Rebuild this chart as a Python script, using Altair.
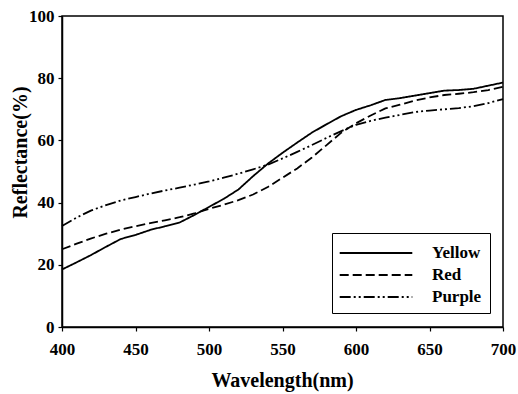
import altair as alt
import pandas as pd

# Wavelength grid (nm)
wavelength = list(range(400, 701, 10))

# Reflectance (%) of the three samples
yellow = [18.5, 20.8, 23.2, 25.8, 28.3, 29.6, 31.2, 32.4, 33.6, 36.0, 38.6,
          41.2, 44.2, 48.5, 52.5, 56.0, 59.3, 62.5, 65.2, 67.8, 69.8,
          71.3, 73.0, 73.6, 74.4, 75.2, 76.0, 76.2, 76.6, 77.6, 78.6]
red = [25.0, 26.8, 28.5, 30.0, 31.3, 32.4, 33.4, 34.3, 35.3, 36.5, 38.0,
       39.3, 40.8, 42.6, 45.0, 48.0, 51.0, 54.5, 58.5, 62.5, 65.5,
       68.0, 70.3, 71.5, 72.8, 73.8, 74.6, 75.0, 75.5, 76.2, 77.2]
purple = [32.5, 35.2, 37.5, 39.2, 40.7, 41.8, 42.9, 43.9, 44.8, 45.8, 46.8,
          48.0, 49.3, 50.7, 52.2, 54.2, 56.3, 58.5, 60.8, 63.0, 65.0,
          66.3, 67.3, 68.2, 69.1, 69.6, 70.0, 70.4, 71.0, 72.0, 73.3]

series_names = ["Yellow", "Red", "Purple"]
x_ticks = [400, 450, 500, 550, 600, 650, 700]
y_ticks = [0, 20, 40, 60, 80, 100]

rows = []
for name, values in zip(series_names, [yellow, red, purple]):
    for w, v in zip(wavelength, values):
        rows.append({"wavelength": w, "reflectance": v, "sample": name})
df = pd.DataFrame(rows)

FONT = "Liberation Serif"

# long horizontal stroke used as the legend symbol (unit square is +-1)
LEGEND_LINE = "M-3.3,0H3.3"

chart = (
    alt.Chart(df)
    .mark_line(color="black", strokeWidth=1.8)
    .encode(
        x=alt.X(
            "wavelength:Q",
            scale=alt.Scale(domain=[400, 700], nice=False),
            axis=alt.Axis(
                values=x_ticks,
                title="Wavelength(nm)",
                titleX=220,
                titleY=53,
                titleBaseline="middle",
                labelPadding=10,
                labelFlush=False,
            ),
        ),
        y=alt.Y(
            "reflectance:Q",
            scale=alt.Scale(domain=[0, 100], nice=False),
            axis=alt.Axis(
                values=y_ticks,
                title="Reflectance(%)",
                titleX=-42,
                titleY=136,
                titleBaseline="middle",
                labelPadding=4,
                labelFlush=False,
            ),
        ),
        strokeDash=alt.StrokeDash(
            "sample:N",
            scale=alt.Scale(
                domain=series_names,
                range=[[1, 0], [9, 4], [11, 3, 2, 3, 2, 3]],
            ),
            sort=series_names,
            legend=alt.Legend(
                title=None,
                orient="none",
                legendX=270,
                legendY=217,
                symbolType=LEGEND_LINE,
                symbolSize=484,
                symbolStrokeWidth=2,
                symbolStrokeColor="black",
                symbolOffset=24,
                labelFont=FONT,
                labelFontSize=17,
                labelFontWeight="bold",
                labelColor="black",
                labelOffset=44,
                rowPadding=2,
                padding=8,
                strokeColor="black",
                fillColor="white",
            ),
        ),
        detail="sample:N",
    )
    .properties(
        width=441,
        height=311,
        autosize=alt.AutoSizeParams(type="none"),
        padding={"left": 62, "top": 16, "right": 15, "bottom": 67},
        background="white",
    )
    .configure_view(stroke="black", strokeWidth=1.5)
    .configure_axis(
        grid=False,
        domainColor="black",
        domainWidth=1.5,
        tickColor="black",
        tickSize=4,
        tickWidth=1.2,
        labelFont=FONT,
        labelFontSize=17,
        labelFontWeight="bold",
        labelColor="black",
        titleFont=FONT,
        titleFontSize=20,
        titleFontWeight="bold",
        titleColor="black",
    )
)

chart.save("out.html", embed_options={"renderer": "svg", "actions": False})
